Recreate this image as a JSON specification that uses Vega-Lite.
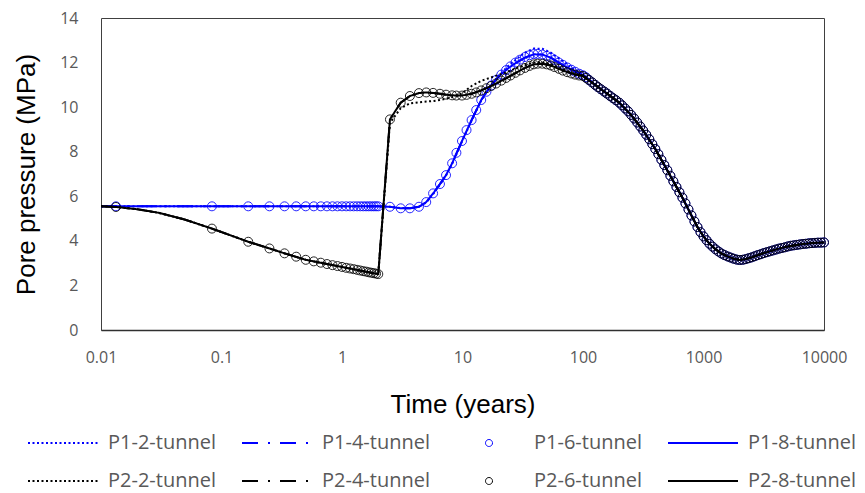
{
"$schema":"https://vega.github.io/schema/vega-lite/v6.json",
"width":723,"height":312,
"autosize":{"type":"none"},
"padding":{"left":101,"top":18,"right":41,"bottom":163},
"config":{"view":{"stroke":"#404040","strokeWidth":1},"font":"Open Sans"},
"datasets":{
"P1-2":[{"t":0.01,"p":5.55},{"t":0.0133,"p":5.55},{"t":0.02,"p":5.55},{"t":0.03,"p":5.55},{"t":0.05,"p":5.55},{"t":0.0833,"p":5.55},{"t":0.1667,"p":5.55},{"t":0.25,"p":5.55},{"t":0.3333,"p":5.55},{"t":0.5,"p":5.55},{"t":0.75,"p":5.55},{"t":1,"p":5.55},{"t":1.5,"p":5.55},{"t":2,"p":5.55},{"t":2.5,"p":5.53},{"t":3.07,"p":5.47},{"t":3.66,"p":5.47},{"t":4.35,"p":5.52},{"t":5,"p":5.72},{"t":5.8,"p":6.15},{"t":6.5,"p":6.52},{"t":7.3,"p":6.93},{"t":8.2,"p":7.45},{"t":9.9,"p":8.45},{"t":11.9,"p":9.4},{"t":14.3,"p":10.3},{"t":17,"p":10.93},{"t":20,"p":11.42},{"t":24,"p":11.85},{"t":28,"p":12.15},{"t":33,"p":12.45},{"t":39,"p":12.63},{"t":46,"p":12.62},{"t":54,"p":12.45},{"t":63,"p":12.2},{"t":74,"p":11.9},{"t":86,"p":11.68},{"t":100,"p":11.48},{"t":126,"p":11.0},{"t":158,"p":10.61},{"t":200,"p":10.2},{"t":251,"p":9.65},{"t":316,"p":8.95},{"t":398,"p":8.12},{"t":473,"p":7.4},{"t":562,"p":6.67},{"t":668,"p":5.94},{"t":794,"p":5.14},{"t":891,"p":4.62},{"t":1000,"p":4.2},{"t":1122,"p":3.87},{"t":1259,"p":3.62},{"t":1413,"p":3.43},{"t":1585,"p":3.3},{"t":1778,"p":3.2},{"t":1995,"p":3.14},{"t":2239,"p":3.18},{"t":2512,"p":3.26},{"t":3162,"p":3.45},{"t":3981,"p":3.61},{"t":5012,"p":3.75},{"t":6310,"p":3.84},{"t":7943,"p":3.9},{"t":10000,"p":3.93}],
"P1-4":[{"t":0.01,"p":5.55},{"t":0.0133,"p":5.55},{"t":0.02,"p":5.55},{"t":0.03,"p":5.55},{"t":0.05,"p":5.55},{"t":0.0833,"p":5.55},{"t":0.1667,"p":5.55},{"t":0.25,"p":5.55},{"t":0.3333,"p":5.55},{"t":0.5,"p":5.55},{"t":0.75,"p":5.55},{"t":1,"p":5.55},{"t":1.5,"p":5.55},{"t":2,"p":5.55},{"t":2.5,"p":5.53},{"t":3.07,"p":5.46},{"t":3.66,"p":5.46},{"t":4.35,"p":5.53},{"t":5,"p":5.74},{"t":5.8,"p":6.18},{"t":6.5,"p":6.55},{"t":7.3,"p":6.95},{"t":8.2,"p":7.48},{"t":9.9,"p":8.48},{"t":11.9,"p":9.42},{"t":14.3,"p":10.32},{"t":17,"p":10.93},{"t":20,"p":11.38},{"t":24,"p":11.75},{"t":28,"p":12.0},{"t":33,"p":12.22},{"t":39,"p":12.37},{"t":46,"p":12.36},{"t":54,"p":12.22},{"t":63,"p":12.0},{"t":74,"p":11.78},{"t":86,"p":11.6},{"t":100,"p":11.43},{"t":126,"p":11.0},{"t":158,"p":10.61},{"t":200,"p":10.2},{"t":251,"p":9.65},{"t":316,"p":8.95},{"t":398,"p":8.12},{"t":473,"p":7.4},{"t":562,"p":6.67},{"t":668,"p":5.94},{"t":794,"p":5.14},{"t":891,"p":4.62},{"t":1000,"p":4.2},{"t":1122,"p":3.87},{"t":1259,"p":3.62},{"t":1413,"p":3.43},{"t":1585,"p":3.3},{"t":1778,"p":3.2},{"t":1995,"p":3.14},{"t":2239,"p":3.18},{"t":2512,"p":3.26},{"t":3162,"p":3.45},{"t":3981,"p":3.61},{"t":5012,"p":3.75},{"t":6310,"p":3.84},{"t":7943,"p":3.9},{"t":10000,"p":3.93}],
"P1-8":[{"t":0.01,"p":5.55},{"t":0.0133,"p":5.55},{"t":0.02,"p":5.55},{"t":0.03,"p":5.55},{"t":0.05,"p":5.55},{"t":0.0833,"p":5.55},{"t":0.1667,"p":5.55},{"t":0.25,"p":5.55},{"t":0.3333,"p":5.55},{"t":0.5,"p":5.55},{"t":0.75,"p":5.55},{"t":1,"p":5.55},{"t":1.5,"p":5.55},{"t":2,"p":5.55},{"t":2.5,"p":5.53},{"t":3.07,"p":5.46},{"t":3.66,"p":5.46},{"t":4.35,"p":5.53},{"t":5,"p":5.74},{"t":5.8,"p":6.18},{"t":6.5,"p":6.55},{"t":7.3,"p":6.95},{"t":8.2,"p":7.48},{"t":9.9,"p":8.48},{"t":11.9,"p":9.42},{"t":14.3,"p":10.32},{"t":17,"p":10.93},{"t":20,"p":11.38},{"t":24,"p":11.75},{"t":28,"p":12.0},{"t":33,"p":12.22},{"t":39,"p":12.37},{"t":46,"p":12.36},{"t":54,"p":12.22},{"t":63,"p":12.0},{"t":74,"p":11.78},{"t":86,"p":11.6},{"t":100,"p":11.43},{"t":126,"p":11.0},{"t":158,"p":10.61},{"t":200,"p":10.2},{"t":251,"p":9.65},{"t":316,"p":8.95},{"t":398,"p":8.12},{"t":473,"p":7.4},{"t":562,"p":6.67},{"t":668,"p":5.94},{"t":794,"p":5.14},{"t":891,"p":4.62},{"t":1000,"p":4.2},{"t":1122,"p":3.87},{"t":1259,"p":3.62},{"t":1413,"p":3.43},{"t":1585,"p":3.3},{"t":1778,"p":3.2},{"t":1995,"p":3.14},{"t":2239,"p":3.18},{"t":2512,"p":3.26},{"t":3162,"p":3.45},{"t":3981,"p":3.61},{"t":5012,"p":3.75},{"t":6310,"p":3.84},{"t":7943,"p":3.9},{"t":10000,"p":3.93}],
"P2-2":[{"t":0.01,"p":5.55},{"t":0.0133,"p":5.52},{"t":0.02,"p":5.42},{"t":0.03,"p":5.26},{"t":0.05,"p":4.95},{"t":0.0833,"p":4.55},{"t":0.1667,"p":3.96},{"t":0.25,"p":3.66},{"t":0.3333,"p":3.44},{"t":0.5,"p":3.15},{"t":0.75,"p":2.96},{"t":1,"p":2.83},{"t":1.5,"p":2.64},{"t":2,"p":2.51},{"t":2.5,"p":9.3},{"t":3.07,"p":9.95},{"t":3.66,"p":10.17},{"t":4.35,"p":10.22},{"t":5,"p":10.25},{"t":5.8,"p":10.28},{"t":6.5,"p":10.32},{"t":7.3,"p":10.38},{"t":8.2,"p":10.45},{"t":9.9,"p":10.62},{"t":11.9,"p":10.95},{"t":14.3,"p":11.18},{"t":17,"p":11.32},{"t":20,"p":11.45},{"t":24,"p":11.6},{"t":28,"p":11.75},{"t":33,"p":11.88},{"t":39,"p":12.0},{"t":46,"p":12.02},{"t":54,"p":11.93},{"t":63,"p":11.78},{"t":74,"p":11.62},{"t":86,"p":11.5},{"t":100,"p":11.42},{"t":126,"p":11.0},{"t":158,"p":10.61},{"t":200,"p":10.2},{"t":251,"p":9.65},{"t":316,"p":8.95},{"t":398,"p":8.12},{"t":473,"p":7.4},{"t":562,"p":6.67},{"t":668,"p":5.94},{"t":794,"p":5.14},{"t":891,"p":4.62},{"t":1000,"p":4.2},{"t":1122,"p":3.87},{"t":1259,"p":3.62},{"t":1413,"p":3.43},{"t":1585,"p":3.3},{"t":1778,"p":3.2},{"t":1995,"p":3.14},{"t":2239,"p":3.18},{"t":2512,"p":3.26},{"t":3162,"p":3.45},{"t":3981,"p":3.61},{"t":5012,"p":3.75},{"t":6310,"p":3.84},{"t":7943,"p":3.9},{"t":10000,"p":3.93}],
"P2-4":[{"t":0.01,"p":5.55},{"t":0.0133,"p":5.52},{"t":0.02,"p":5.42},{"t":0.03,"p":5.26},{"t":0.05,"p":4.95},{"t":0.0833,"p":4.55},{"t":0.1667,"p":3.96},{"t":0.25,"p":3.66},{"t":0.3333,"p":3.44},{"t":0.5,"p":3.15},{"t":0.75,"p":2.96},{"t":1,"p":2.83},{"t":1.5,"p":2.64},{"t":2,"p":2.51},{"t":2.5,"p":9.45},{"t":3.07,"p":10.2},{"t":3.66,"p":10.5},{"t":4.35,"p":10.63},{"t":5,"p":10.66},{"t":5.8,"p":10.63},{"t":6.5,"p":10.6},{"t":7.3,"p":10.56},{"t":8.2,"p":10.53},{"t":9.9,"p":10.52},{"t":11.9,"p":10.6},{"t":14.3,"p":10.75},{"t":17,"p":10.93},{"t":20,"p":11.12},{"t":24,"p":11.35},{"t":28,"p":11.55},{"t":33,"p":11.76},{"t":39,"p":11.92},{"t":46,"p":11.95},{"t":54,"p":11.87},{"t":63,"p":11.72},{"t":74,"p":11.57},{"t":86,"p":11.46},{"t":100,"p":11.4},{"t":126,"p":11.0},{"t":158,"p":10.61},{"t":200,"p":10.2},{"t":251,"p":9.65},{"t":316,"p":8.95},{"t":398,"p":8.12},{"t":473,"p":7.4},{"t":562,"p":6.67},{"t":668,"p":5.94},{"t":794,"p":5.14},{"t":891,"p":4.62},{"t":1000,"p":4.2},{"t":1122,"p":3.87},{"t":1259,"p":3.62},{"t":1413,"p":3.43},{"t":1585,"p":3.3},{"t":1778,"p":3.2},{"t":1995,"p":3.14},{"t":2239,"p":3.18},{"t":2512,"p":3.26},{"t":3162,"p":3.45},{"t":3981,"p":3.61},{"t":5012,"p":3.75},{"t":6310,"p":3.84},{"t":7943,"p":3.9},{"t":10000,"p":3.93}],
"P2-8":[{"t":0.01,"p":5.55},{"t":0.0133,"p":5.52},{"t":0.02,"p":5.42},{"t":0.03,"p":5.26},{"t":0.05,"p":4.95},{"t":0.0833,"p":4.55},{"t":0.1667,"p":3.96},{"t":0.25,"p":3.66},{"t":0.3333,"p":3.44},{"t":0.5,"p":3.15},{"t":0.75,"p":2.96},{"t":1,"p":2.83},{"t":1.5,"p":2.64},{"t":2,"p":2.51},{"t":2.5,"p":9.45},{"t":3.07,"p":10.2},{"t":3.66,"p":10.5},{"t":4.35,"p":10.63},{"t":5,"p":10.66},{"t":5.8,"p":10.63},{"t":6.5,"p":10.6},{"t":7.3,"p":10.56},{"t":8.2,"p":10.53},{"t":9.9,"p":10.52},{"t":11.9,"p":10.6},{"t":14.3,"p":10.75},{"t":17,"p":10.93},{"t":20,"p":11.12},{"t":24,"p":11.35},{"t":28,"p":11.55},{"t":33,"p":11.76},{"t":39,"p":11.92},{"t":46,"p":11.95},{"t":54,"p":11.87},{"t":63,"p":11.72},{"t":74,"p":11.57},{"t":86,"p":11.46},{"t":100,"p":11.4},{"t":126,"p":11.0},{"t":158,"p":10.61},{"t":200,"p":10.2},{"t":251,"p":9.65},{"t":316,"p":8.95},{"t":398,"p":8.12},{"t":473,"p":7.4},{"t":562,"p":6.67},{"t":668,"p":5.94},{"t":794,"p":5.14},{"t":891,"p":4.62},{"t":1000,"p":4.2},{"t":1122,"p":3.87},{"t":1259,"p":3.62},{"t":1413,"p":3.43},{"t":1585,"p":3.3},{"t":1778,"p":3.2},{"t":1995,"p":3.14},{"t":2239,"p":3.18},{"t":2512,"p":3.26},{"t":3162,"p":3.45},{"t":3981,"p":3.61},{"t":5012,"p":3.75},{"t":6310,"p":3.84},{"t":7943,"p":3.9},{"t":10000,"p":3.93}],
"P1-6":[{"t":0.0133,"p":5.55},{"t":0.0833,"p":5.55},{"t":0.1667,"p":5.55},{"t":0.25,"p":5.55},{"t":0.3333,"p":5.55},{"t":0.4167,"p":5.55},{"t":0.5,"p":5.55},{"t":0.5833,"p":5.55},{"t":0.6667,"p":5.55},{"t":0.75,"p":5.55},{"t":0.8333,"p":5.55},{"t":0.9167,"p":5.55},{"t":1,"p":5.55},{"t":1.0833,"p":5.55},{"t":1.1667,"p":5.55},{"t":1.25,"p":5.55},{"t":1.3333,"p":5.55},{"t":1.4167,"p":5.55},{"t":1.5,"p":5.55},{"t":1.5833,"p":5.55},{"t":1.6667,"p":5.55},{"t":1.75,"p":5.55},{"t":1.8333,"p":5.55},{"t":1.9167,"p":5.55},{"t":2,"p":5.55},{"t":2.5,"p":5.53},{"t":3.07,"p":5.46},{"t":3.66,"p":5.46},{"t":4.35,"p":5.53},{"t":5,"p":5.74},{"t":5.7,"p":6.13},{"t":6.5,"p":6.55},{"t":7.3,"p":6.95},{"t":8.2,"p":7.48},{"t":8.9,"p":7.95},{"t":9.9,"p":8.48},{"t":10.8,"p":8.97},{"t":11.9,"p":9.42},{"t":13,"p":9.87},{"t":14.3,"p":10.32},{"t":15.8,"p":10.69},{"t":17.3,"p":10.97},{"t":19,"p":11.22},{"t":21,"p":11.46},{"t":23,"p":11.66},{"t":25,"p":11.83},{"t":27.5,"p":12.0},{"t":30,"p":12.13},{"t":33,"p":12.25},{"t":36,"p":12.33},{"t":39,"p":12.38},{"t":42,"p":12.39},{"t":46,"p":12.36},{"t":50,"p":12.3},{"t":54,"p":12.22},{"t":58,"p":12.12},{"t":63,"p":12.0},{"t":68,"p":11.9},{"t":74,"p":11.78},{"t":80,"p":11.68},{"t":86,"p":11.59},{"t":93,"p":11.5},{"t":100,"p":11.43},{"t":106,"p":11.34},{"t":112,"p":11.22},{"t":119,"p":11.11},{"t":126,"p":11.0},{"t":133,"p":10.9},{"t":141,"p":10.8},{"t":150,"p":10.7},{"t":158,"p":10.61},{"t":168,"p":10.5},{"t":178,"p":10.4},{"t":188,"p":10.31},{"t":200,"p":10.2},{"t":211,"p":10.08},{"t":224,"p":9.94},{"t":237,"p":9.81},{"t":251,"p":9.65},{"t":266,"p":9.49},{"t":282,"p":9.31},{"t":299,"p":9.13},{"t":316,"p":8.95},{"t":335,"p":8.76},{"t":355,"p":8.56},{"t":376,"p":8.34},{"t":398,"p":8.12},{"t":422,"p":7.89},{"t":447,"p":7.64},{"t":473,"p":7.4},{"t":501,"p":7.17},{"t":531,"p":6.92},{"t":562,"p":6.67},{"t":596,"p":6.42},{"t":631,"p":6.18},{"t":668,"p":5.94},{"t":708,"p":5.68},{"t":750,"p":5.41},{"t":794,"p":5.14},{"t":841,"p":4.87},{"t":891,"p":4.62},{"t":944,"p":4.39},{"t":1000,"p":4.2},{"t":1059,"p":4.03},{"t":1122,"p":3.87},{"t":1189,"p":3.74},{"t":1259,"p":3.62},{"t":1334,"p":3.52},{"t":1413,"p":3.43},{"t":1496,"p":3.36},{"t":1585,"p":3.3},{"t":1679,"p":3.25},{"t":1778,"p":3.2},{"t":1884,"p":3.16},{"t":1995,"p":3.14},{"t":2113,"p":3.15},{"t":2239,"p":3.18},{"t":2371,"p":3.22},{"t":2512,"p":3.26},{"t":2661,"p":3.31},{"t":2818,"p":3.36},{"t":2985,"p":3.4},{"t":3162,"p":3.45},{"t":3350,"p":3.49},{"t":3548,"p":3.53},{"t":3758,"p":3.57},{"t":3981,"p":3.61},{"t":4217,"p":3.65},{"t":4467,"p":3.68},{"t":4732,"p":3.71},{"t":5012,"p":3.75},{"t":5309,"p":3.78},{"t":5623,"p":3.8},{"t":5957,"p":3.82},{"t":6310,"p":3.84},{"t":6683,"p":3.86},{"t":7079,"p":3.87},{"t":7499,"p":3.89},{"t":7943,"p":3.9},{"t":8414,"p":3.91},{"t":8913,"p":3.92},{"t":9441,"p":3.92},{"t":10000,"p":3.93}],
"P2-6":[{"t":0.0133,"p":5.52},{"t":0.0833,"p":4.55},{"t":0.1667,"p":3.96},{"t":0.25,"p":3.66},{"t":0.3333,"p":3.44},{"t":0.4167,"p":3.29},{"t":0.5,"p":3.15},{"t":0.5833,"p":3.08},{"t":0.6667,"p":3.02},{"t":0.75,"p":2.96},{"t":0.8333,"p":2.91},{"t":0.9167,"p":2.87},{"t":1,"p":2.83},{"t":1.0833,"p":2.79},{"t":1.1667,"p":2.76},{"t":1.25,"p":2.73},{"t":1.3333,"p":2.7},{"t":1.4167,"p":2.67},{"t":1.5,"p":2.64},{"t":1.5833,"p":2.62},{"t":1.6667,"p":2.59},{"t":1.75,"p":2.57},{"t":1.8333,"p":2.55},{"t":1.9167,"p":2.53},{"t":2,"p":2.51},{"t":2.5,"p":9.45},{"t":3.07,"p":10.2},{"t":3.66,"p":10.5},{"t":4.35,"p":10.63},{"t":5,"p":10.66},{"t":5.7,"p":10.64},{"t":6.5,"p":10.6},{"t":7.3,"p":10.56},{"t":8.2,"p":10.53},{"t":8.9,"p":10.52},{"t":9.9,"p":10.52},{"t":10.8,"p":10.55},{"t":11.9,"p":10.6},{"t":13,"p":10.66},{"t":14.3,"p":10.75},{"t":15.8,"p":10.85},{"t":17.3,"p":10.95},{"t":19,"p":11.06},{"t":21,"p":11.19},{"t":23,"p":11.31},{"t":25,"p":11.42},{"t":27.5,"p":11.54},{"t":30,"p":11.65},{"t":33,"p":11.76},{"t":36,"p":11.85},{"t":39,"p":11.92},{"t":42,"p":11.95},{"t":46,"p":11.95},{"t":50,"p":11.92},{"t":54,"p":11.87},{"t":58,"p":11.8},{"t":63,"p":11.72},{"t":68,"p":11.64},{"t":74,"p":11.57},{"t":80,"p":11.51},{"t":86,"p":11.46},{"t":93,"p":11.42},{"t":100,"p":11.4},{"t":106,"p":11.31},{"t":112,"p":11.22},{"t":119,"p":11.11},{"t":126,"p":11.0},{"t":133,"p":10.9},{"t":141,"p":10.8},{"t":150,"p":10.7},{"t":158,"p":10.61},{"t":168,"p":10.5},{"t":178,"p":10.4},{"t":188,"p":10.31},{"t":200,"p":10.2},{"t":211,"p":10.08},{"t":224,"p":9.94},{"t":237,"p":9.81},{"t":251,"p":9.65},{"t":266,"p":9.49},{"t":282,"p":9.31},{"t":299,"p":9.13},{"t":316,"p":8.95},{"t":335,"p":8.76},{"t":355,"p":8.56},{"t":376,"p":8.34},{"t":398,"p":8.12},{"t":422,"p":7.89},{"t":447,"p":7.64},{"t":473,"p":7.4},{"t":501,"p":7.17},{"t":531,"p":6.92},{"t":562,"p":6.67},{"t":596,"p":6.42},{"t":631,"p":6.18},{"t":668,"p":5.94},{"t":708,"p":5.68},{"t":750,"p":5.41},{"t":794,"p":5.14},{"t":841,"p":4.87},{"t":891,"p":4.62},{"t":944,"p":4.39},{"t":1000,"p":4.2},{"t":1059,"p":4.03},{"t":1122,"p":3.87},{"t":1189,"p":3.74},{"t":1259,"p":3.62},{"t":1334,"p":3.52},{"t":1413,"p":3.43},{"t":1496,"p":3.36},{"t":1585,"p":3.3},{"t":1679,"p":3.25},{"t":1778,"p":3.2},{"t":1884,"p":3.16},{"t":1995,"p":3.14},{"t":2113,"p":3.15},{"t":2239,"p":3.18},{"t":2371,"p":3.22},{"t":2512,"p":3.26},{"t":2661,"p":3.31},{"t":2818,"p":3.36},{"t":2985,"p":3.4},{"t":3162,"p":3.45},{"t":3350,"p":3.49},{"t":3548,"p":3.53},{"t":3758,"p":3.57},{"t":3981,"p":3.61},{"t":4217,"p":3.65},{"t":4467,"p":3.68},{"t":4732,"p":3.71},{"t":5012,"p":3.75},{"t":5309,"p":3.78},{"t":5623,"p":3.8},{"t":5957,"p":3.82},{"t":6310,"p":3.84},{"t":6683,"p":3.86},{"t":7079,"p":3.87},{"t":7499,"p":3.89},{"t":7943,"p":3.9},{"t":8414,"p":3.91},{"t":8913,"p":3.92},{"t":9441,"p":3.92},{"t":10000,"p":3.93}]
},
"encoding":{
"x":{"field":"t","type":"quantitative","scale":{"type":"log","domain":[0.01,10000]},
"axis":{"values":[0.01,0.1,1,10,100,1000,10000],"format":"~g","ticks":false,"grid":false,"domain":true,"domainColor":"#303030","domainWidth":1.5,"labelPadding":19,"labelFont":"Open Sans","labelFontSize":16,"labelColor":"#595959","labelFlush":false,"labelOverlap":false,"title":"Time (years)","titleFont":"Liberation Sans","titleFontSize":26,"titleFontWeight":"normal","titleColor":"#000000","titlePadding":26}},
"y":{"field":"p","type":"quantitative","scale":{"domain":[0,14],"nice":false},
"axis":{"values":[0,2,4,6,8,10,12,14],"ticks":false,"grid":false,"domain":false,"labelPadding":23,"labelFont":"Open Sans","labelFontSize":16,"labelColor":"#595959","labelFlush":false,"title":"Pore pressure (MPa)","titleFont":"Liberation Sans","titleFontSize":26,"titleFontWeight":"normal","titleColor":"#000000","titlePadding":20}}
},
"layer":[
{"data":{"name":"P1-2"},"mark":{"type":"line","strokeWidth":2},"encoding":{
"color":{"datum":"P1-2-tunnel","type":"nominal","scale":{"domain":["P1-2-tunnel","P1-4-tunnel","P1-6-tunnel","P1-8-tunnel","P2-2-tunnel","P2-4-tunnel","P2-6-tunnel","P2-8-tunnel"],"range":["#0000FF","#0000FF","#0000FF","#0000FF","#000000","#000000","#000000","#000000"]},
"legend":{"orient":"none","legendX":-48,"legendY":415,"columns":4,"direction":"horizontal","title":null,"symbolSize":400,"labelOffset":35,"columnPadding":22,"rowPadding":18,"padding":0,"labelFont":"Open Sans","labelFontSize":20,"labelColor":"#595959","labelLimit":300,
"encode":{"symbols":{"update":{"fill":{"value":"transparent"},"size":{"value":400},"strokeWidth":{"signal":"datum.value === 'P1-6-tunnel' || datum.value === 'P2-6-tunnel' ? 1 : 2"}}}}}},
"strokeDash":{"datum":"P1-2-tunnel","type":"nominal","scale":{"domain":["P1-2-tunnel","P1-4-tunnel","P1-6-tunnel","P1-8-tunnel","P2-2-tunnel","P2-4-tunnel","P2-6-tunnel","P2-8-tunnel"],"range":[[2,2.5],[16,10,2,10],[1,0],[1,0],[2,2.5],[16,10,2,10],[1,0],[1,0]]}}}},
{"data":{"name":"P1-4"},"mark":{"type":"line","strokeWidth":2},"encoding":{"color":{"datum":"P1-4-tunnel","type":"nominal"},"strokeDash":{"datum":"P1-4-tunnel","type":"nominal"}}},
{"data":{"name":"P1-6"},"mark":{"type":"point","filled":false,"size":661,"strokeWidth":1,"opacity":0.85},"encoding":{"color":{"datum":"P1-6-tunnel","type":"nominal"},
"shape":{"datum":"P1-6-tunnel","type":"nominal","scale":{"domain":["P1-2-tunnel","P1-4-tunnel","P1-6-tunnel","P1-8-tunnel","P2-2-tunnel","P2-4-tunnel","P2-6-tunnel","P2-8-tunnel"],"range":["M-3.5,0H3.5","M-3.5,0H3.5","M-3.5,0M3.5,0M0.35,0A0.35,0.35,0,1,1,-0.35,0A0.35,0.35,0,1,1,0.35,0Z","M-3.5,0H3.5","M-3.5,0H3.5","M-3.5,0H3.5","M-3.5,0M3.5,0M0.35,0A0.35,0.35,0,1,1,-0.35,0A0.35,0.35,0,1,1,0.35,0Z","M-3.5,0H3.5"]}}}},
{"data":{"name":"P1-8"},"mark":{"type":"line","strokeWidth":2},"encoding":{"color":{"datum":"P1-8-tunnel","type":"nominal"},"strokeDash":{"datum":"P1-8-tunnel","type":"nominal"}}},
{"data":{"name":"P2-2"},"mark":{"type":"line","strokeWidth":2},"encoding":{"color":{"datum":"P2-2-tunnel","type":"nominal"},"strokeDash":{"datum":"P2-2-tunnel","type":"nominal"}}},
{"data":{"name":"P2-4"},"mark":{"type":"line","strokeWidth":2},"encoding":{"color":{"datum":"P2-4-tunnel","type":"nominal"},"strokeDash":{"datum":"P2-4-tunnel","type":"nominal"}}},
{"data":{"name":"P2-6"},"mark":{"type":"point","filled":false,"size":661,"strokeWidth":1,"opacity":0.85},"encoding":{"color":{"datum":"P2-6-tunnel","type":"nominal"},"shape":{"datum":"P2-6-tunnel","type":"nominal"}}},
{"data":{"name":"P2-8"},"mark":{"type":"line","strokeWidth":2},"encoding":{"color":{"datum":"P2-8-tunnel","type":"nominal"},"strokeDash":{"datum":"P2-8-tunnel","type":"nominal"}}}
]
}
